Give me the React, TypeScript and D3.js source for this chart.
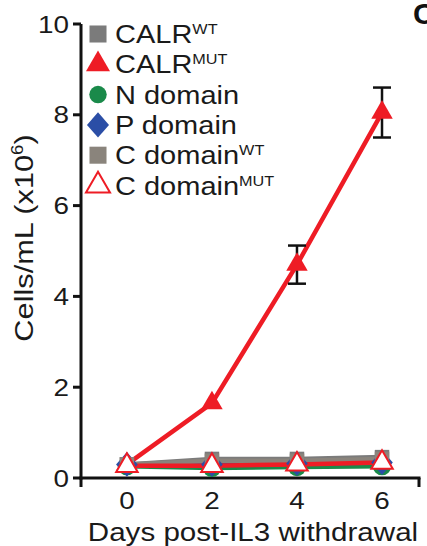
import React from "react";
import * as d3 from "d3";

const days = [0, 2, 4, 6];
const seriesNames = ["CALR", "CALR", "N domain", "P domain", "C domain", "C domain"];
const seriesSup = ["WT", "MUT", "", "", "WT", "MUT"];
const calrWT = [0.3, 0.42, 0.42, 0.46];
const calrMUT = [0.3, 1.65, 4.7, 8.05];
const calrMUTerr = [0.02, 0.02, 0.42, 0.55];
const nDomain = [0.26, 0.22, 0.24, 0.26];
const pDomain = [0.3, 0.3, 0.32, 0.34];
const cDomainWT = [0.3, 0.38, 0.38, 0.42];
const cDomainMUT = [0.27, 0.27, 0.3, 0.34];
const yTicks = [0, 2, 4, 6, 8, 10];

const W = 427;
const H = 546;
const SX = 1.16;
const FONT = "'Liberation Sans', Arial, sans-serif";

const x = d3.scaleLinear().domain([-1.08, 6.87]).range([81, 419]);
const y = d3.scaleLinear().domain([0, 10]).range([478, 24]);

// a diamond that is a square turned by 45 degrees
const symbolDiamondSq: d3.SymbolType = {
  draw(ctx, size) {
    const r = Math.sqrt(size / 2);
    ctx.moveTo(0, -r * 1.08);
    ctx.lineTo(r * 0.95, 0);
    ctx.lineTo(0, r * 1.08);
    ctx.lineTo(-r * 0.95, 0);
    ctx.closePath();
  },
};

type Series = {
  values: number[];
  err?: number[];
  symbol: d3.SymbolType;
  size: number;
  fill: string;
  stroke: string;
  line: string;
};

const series: Series[] = [
  { values: calrWT, symbol: d3.symbolSquare, size: 210, fill: "#7b7b7b", stroke: "#7b7b7b", line: "#7b7b7b" },
  { values: calrMUT, err: calrMUTerr, symbol: d3.symbolTriangle, size: 200, fill: "#ee1c25", stroke: "#ee1c25", line: "#ee1c25" },
  { values: nDomain, symbol: d3.symbolCircle, size: 260, fill: "#1a8a4a", stroke: "#1a8a4a", line: "#1a8a4a" },
  { values: pDomain, symbol: symbolDiamondSq, size: 260, fill: "#2b4ea6", stroke: "#2b4ea6", line: "#2b4ea6" },
  { values: cDomainWT, symbol: d3.symbolSquare, size: 210, fill: "#8a847c", stroke: "#8a847c", line: "#8a847c" },
  { values: cDomainMUT, symbol: d3.symbolTriangle, size: 200, fill: "#ffffff", stroke: "#ee1c25", line: "#ee1c25" },
];

const lineGen = d3
  .line<number>()
  .x((_, i) => x(days[i]))
  .y((d) => y(d));

function Txt(props: { x: number; y: number; size: number; anchor?: string; rotate?: number; children: React.ReactNode }) {
  const rot = props.rotate ? ` rotate(${props.rotate})` : "";
  return (
    <text
      transform={`translate(${props.x},${props.y})${rot} scale(${SX},1)`}
      fontSize={props.size}
      fontFamily={FONT}
      textAnchor={props.anchor || "start"}
      fill="#1a1a1a"
    >
      {props.children}
    </text>
  );
}

export default function App() {
  const legendX = 98;
  const legendY0 = 43;
  const legendStep = 30.3;

  return (
    <svg width={W} height={H} style={{ position: "absolute", left: 0, top: 0, background: "#fff" }}>
      {/* panel letter, cut off at the edge in the original */}
      <text x={413} y={24} fontSize={30} fontFamily={FONT} fontWeight="bold" fill="#111">C</text>

      {/* y axis */}
      <line x1={x.range()[0]} x2={x.range()[0]} y1={y(10)} y2={y(0) + 1.5} stroke="#111" strokeWidth={3} />
      {yTicks.map((t) => (
        <g key={t}>
          <line x1={x.range()[0] - 8} x2={x.range()[0]} y1={y(t)} y2={y(t)} stroke="#111" strokeWidth={3} />
          <Txt x={x.range()[0] - 12} y={y(t) + 8.5} size={24} anchor="end">{t}</Txt>
        </g>
      ))}

      {/* x axis */}
      <line x1={x.range()[0] - 1.5} x2={x.range()[1] + 1.5} y1={y(0)} y2={y(0)} stroke="#111" strokeWidth={3} />
      <line x1={x.range()[0]} x2={x.range()[0]} y1={y(0)} y2={y(0) + 9} stroke="#111" strokeWidth={3} />
      <line x1={x.range()[1]} x2={x.range()[1]} y1={y(0)} y2={y(0) + 9} stroke="#111" strokeWidth={3} />
      {days.map((d) => (
        <Txt key={d} x={x(d)} y={509} size={24} anchor="middle">{d}</Txt>
      ))}

      <Txt x={253} y={541} size={25.5} anchor="middle">Days post-IL3 withdrawal</Txt>
      <Txt x={33} y={238} size={26.5} anchor="middle" rotate={-90}>
        Cells/mL (x10<tspan fontSize={16} dy={-10}>6</tspan><tspan dy={10}>)</tspan>
      </Txt>

      {/* lines */}
      {series.map((s, i) => (
        <path key={"l" + i} d={lineGen(s.values) || ""} fill="none" stroke={s.line} strokeWidth={4.5} />
      ))}

      {/* error bars (small ones hide behind the marker) */}
      {series.map((s, i) =>
        s.err
          ? s.values.map((v, j) =>
              s.err![j] < 0.1 ? null : (
                <g key={"e" + i + j} stroke="#111" strokeWidth={2.5}>
                  <line x1={x(days[j])} x2={x(days[j])} y1={y(v - s.err![j])} y2={y(v + s.err![j])} />
                  <line x1={x(days[j]) - 9} x2={x(days[j]) + 9} y1={y(v - s.err![j])} y2={y(v - s.err![j])} />
                  <line x1={x(days[j]) - 9} x2={x(days[j]) + 9} y1={y(v + s.err![j])} y2={y(v + s.err![j])} />
                </g>
              )
            )
          : null
      )}

      {/* markers */}
      {series.map((s, i) =>
        s.values.map((v, j) => (
          <path
            key={"m" + i + j}
            transform={`translate(${x(days[j])},${y(v)})`}
            d={d3.symbol(s.symbol, s.size)() || ""}
            fill={s.fill}
            stroke={s.stroke}
            strokeWidth={s.fill === "#ffffff" ? 2 : 0}
          />
        ))
      )}

      {/* legend */}
      {series.map((s, i) => {
        const by = legendY0 + i * legendStep;
        const sz = s.symbol === d3.symbolTriangle ? 250 : s.symbol === d3.symbolCircle ? 240 : s.symbol === symbolDiamondSq ? 270 : 290;
        return (
          <g key={"lg" + i}>
            <path
              transform={`translate(${legendX},${by - 9})`}
              d={d3.symbol(s.symbol, sz)() || ""}
              fill={s.fill}
              stroke={s.stroke}
              strokeWidth={s.fill === "#ffffff" ? 2 : 0}
            />
            <Txt x={115} y={by} size={25}>
              {seriesNames[i]}
              {seriesSup[i] ? <tspan fontSize={14} dy={-9}>{seriesSup[i]}</tspan> : null}
            </Txt>
          </g>
        );
      })}
    </svg>
  );
}
